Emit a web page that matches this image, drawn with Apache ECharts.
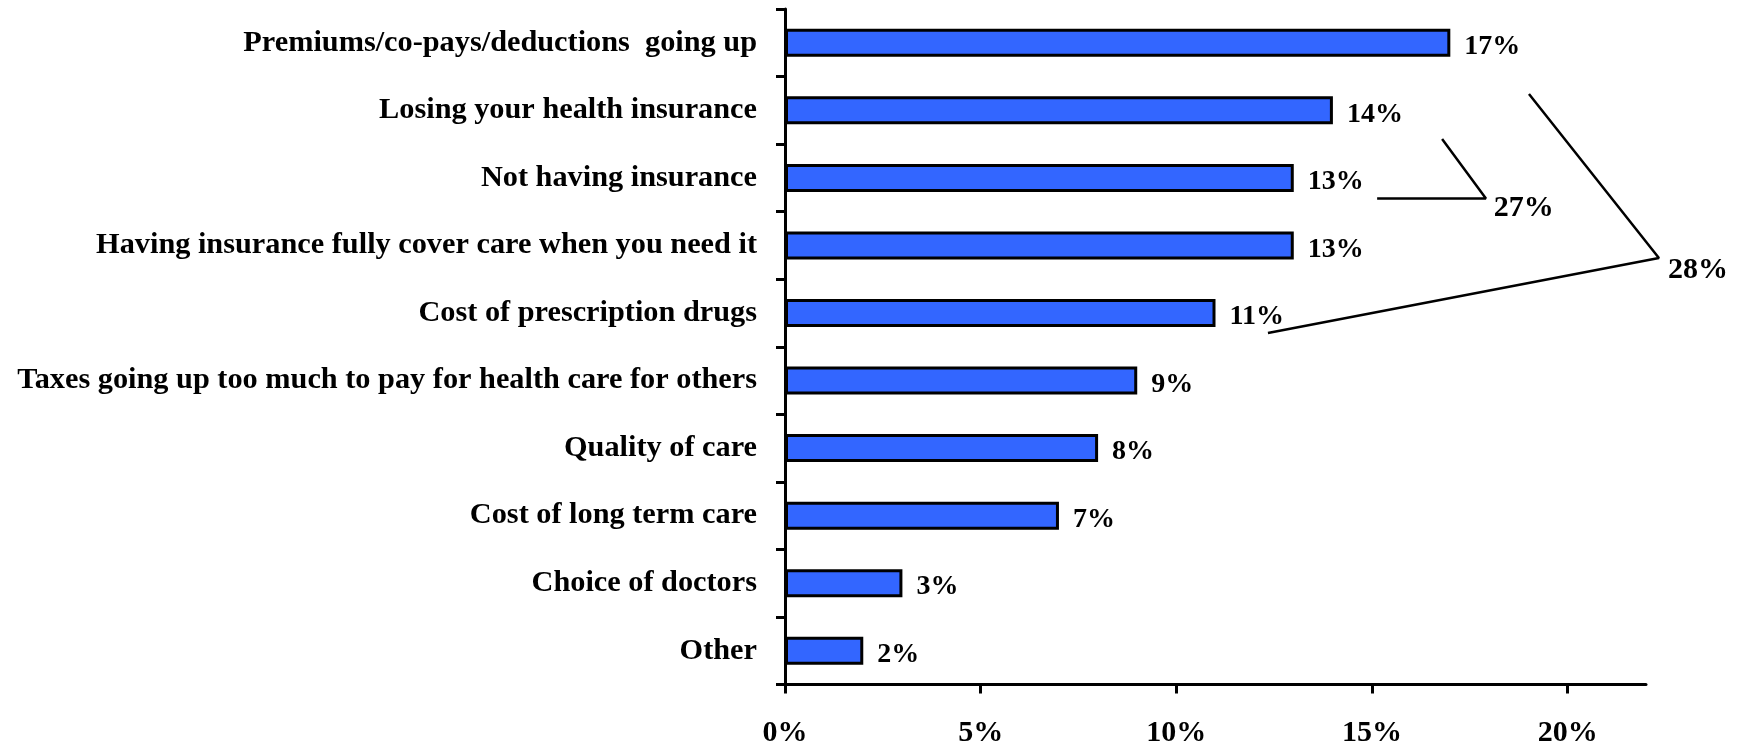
<!DOCTYPE html>
<html>
<head>
<meta charset="utf-8">
<script src="https://cdn.jsdelivr.net/npm/echarts@6/dist/echarts.min.js"></script>
<style>
html,body{margin:0;padding:0;background:#fff;}
#c{width:1745px;height:741px;}
</style>
</head>
<body>
<div id="c"></div>
<script>
const categories = [
  'Premiums/co-pays/deductions  going up',
  'Losing your health insurance',
  'Not having insurance',
  'Having insurance fully cover care when you need it',
  'Cost of prescription drugs',
  'Taxes going up too much to pay for health care for others',
  'Quality of care',
  'Cost of long term care',
  'Choice of doctors',
  'Other'
];
const values = [17, 14, 13, 13, 11, 9, 8, 7, 3, 2];
const xTicks = [0, 5, 10, 15, 20];
// group brackets, in data units (x = percent, y = category rows from top)
const bracket27 = [[15.13, 2.805], [17.91, 2.805], [16.79, 1.925]];
const bracket28 = [[12.34, 4.796], [22.33, 3.686], [19.01, 1.258]];
const groupLabels = [
  { name: '27%', value: [18.11, 2.946] },
  { name: '28%', value: [22.56, 3.864] }
];

const FONT = 'Liberation Serif';
const UNIT = 861 / 22;
const chart = echarts.init(document.getElementById('c'), null, { renderer: 'canvas' });
chart.setOption({
  animation: false,
  backgroundColor: '#ffffff',
  grid: [
    { left: 785, top: 9, width: 861, height: 675.5, containLabel: false, outerBoundsMode: 'none' },
    { left: 785, top: 9, width: UNIT * 24, height: 675.5, containLabel: false, outerBoundsMode: 'none' }
  ],
  xAxis: [{
    type: 'value', min: 0, max: 22, interval: 5, position: 'bottom', gridIndex: 0,
    splitLine: { show: false },
    axisLine: { show: true, onZero: false, lineStyle: { color: '#000', width: 3 } },
    axisTick: { show: true, customValues: xTicks, length: 9, lineStyle: { color: '#000', width: 3 } },
    axisLabel: {
      customValues: xTicks, formatter: '{value}%', margin: 34,
      color: '#000', fontFamily: FONT, fontWeight: 'bold', fontSize: 30
    }
  }, {
    type: 'value', min: 0, max: 24, gridIndex: 1, show: false
  }],
  yAxis: [{
    type: 'category', data: categories, inverse: true, gridIndex: 0,
    axisLine: { show: true, onZero: false, lineStyle: { color: '#000', width: 3 } },
    axisTick: { show: true, length: 9, lineStyle: { color: '#000', width: 3 } },
    axisLabel: { margin: 28, color: '#000', fontFamily: FONT, fontWeight: 'bold', fontSize: 30.3 }
  }, {
    type: 'value', min: 0, max: 10, inverse: true, show: false, gridIndex: 1
  }],
  series: [{
    type: 'bar', data: values, barWidth: 28,
    itemStyle: { color: '#3366ff', borderColor: '#000', borderWidth: 3, opacity: 1 },
    label: {
      show: true, position: 'right', distance: 14, offset: [0, 4],
      formatter: '{c}%', color: '#000', fontFamily: FONT, fontWeight: 'bold', fontSize: 28
    }
  }, {
    type: 'line', xAxisIndex: 1, yAxisIndex: 1, data: bracket27, symbol: 'none', clip: false,
    lineStyle: { color: '#000', width: 2.5 }
  }, {
    type: 'line', xAxisIndex: 1, yAxisIndex: 1, data: bracket28, symbol: 'none', clip: false,
    lineStyle: { color: '#000', width: 2.5 }
  }, {
    type: 'scatter', xAxisIndex: 1, yAxisIndex: 1, data: groupLabels, symbolSize: 0, clip: false,
    itemStyle: { opacity: 1, color: '#000' },
    label: {
      show: true, position: 'right', distance: 0, formatter: '{b}',
      color: '#000', opacity: 1, fontFamily: FONT, fontWeight: 'bold', fontSize: 30
    }
  }]
});
</script>
</body>
</html>
